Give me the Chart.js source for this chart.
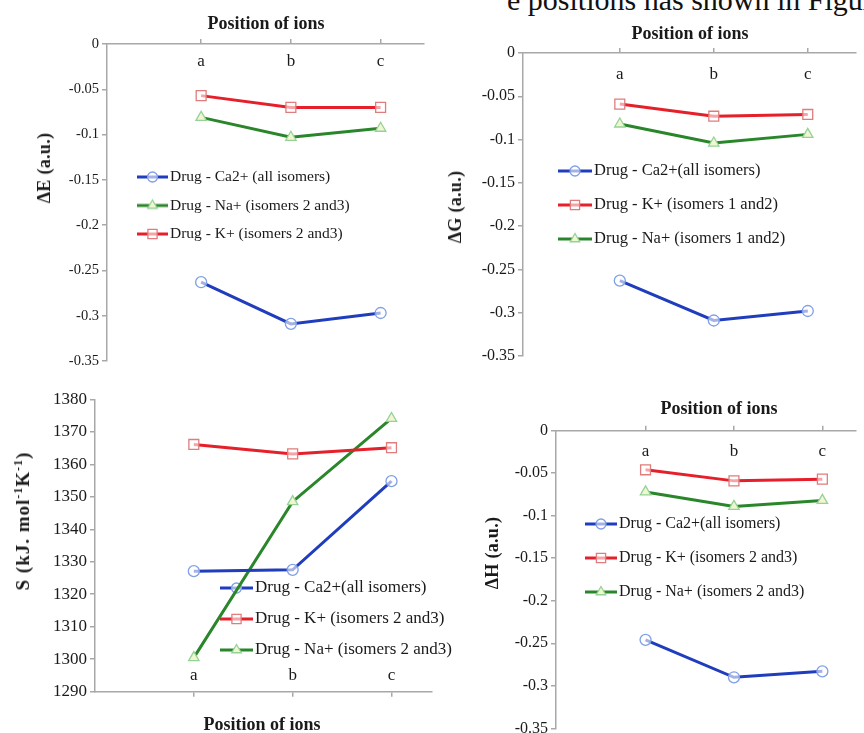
<!DOCTYPE html>
<html><head><meta charset="utf-8">
<script src="https://cdn.jsdelivr.net/npm/chart.js@4.4.1/dist/chart.umd.min.js"></script>
<style>
html,body{margin:0;padding:0;background:#fff;width:864px;height:733px;overflow:hidden;position:relative;font-family:"Liberation Serif",serif;}
canvas{position:absolute;}
.t{position:absolute;white-space:nowrap;color:#1a1a1a;font-weight:bold;font-size:18px;line-height:20px;transform:translate(-50%,-50%);}
.ty{transform:translate(-50%,-50%) rotate(-90deg);}
.top{position:absolute;left:507px;top:-15px;font-size:30px;line-height:30px;white-space:nowrap;color:#111;}
sup{font-size:12px;line-height:0;}
</style></head><body>
<div class="top">e positions has shown in Figure</div>
<canvas id="cE" width="432" height="370" style="left:0;top:0"></canvas>
<canvas id="cG" width="430" height="370" style="left:434px;top:0"></canvas>
<canvas id="cH" width="430" height="362" style="left:434px;top:380px"></canvas>
<canvas id="cS" width="480" height="353" style="left:0;top:380px"></canvas>
<div class="t" style="left:266px;top:23px">Position of ions</div>
<div class="t" style="left:690px;top:33px">Position of ions</div>
<div class="t" style="left:262px;top:724px">Position of ions</div>
<div class="t" style="left:719px;top:408px">Position of ions</div>
<div class="t ty" style="left:44px;top:168px;letter-spacing:0.3px">ΔE (a.u.)</div>
<div class="t ty" style="left:455px;top:207px;letter-spacing:0.3px">ΔG (a.u.)</div>
<div class="t ty" style="left:23px;top:521px;font-size:19px;letter-spacing:1px">S (kJ. mol<sup>-1</sup>K<sup>-1</sup>)</div>
<div class="t ty" style="left:492px;top:553px;letter-spacing:0.3px">ΔH (a.u.)</div>
<script>
// ---------- data ----------
const categories = ['a', 'b', 'c'];

const energyTicks = [0, -0.05, -0.1, -0.15, -0.2, -0.25, -0.3, -0.35];
const entropyTicks = [1380, 1370, 1360, 1350, 1340, 1330, 1320, 1310, 1300, 1290];

// ΔE (a.u.)
const dE_Ca = [-0.263, -0.309, -0.297];
const dE_Na = [-0.081, -0.103, -0.093];
const dE_K  = [-0.057, -0.070, -0.070];
const legendE = ['Drug - Ca2+ (all isomers)', 'Drug - Na+ (isomers 2 and3)', 'Drug - K+ (isomers 2 and3)'];

// ΔG (a.u.)
const dG_Ca = [-0.263, -0.309, -0.298];
const dG_K  = [-0.059, -0.073, -0.071];
const dG_Na = [-0.082, -0.104, -0.094];
const legendG = ['Drug - Ca2+(all isomers)', 'Drug - K+ (isomers 1 and2)', 'Drug - Na+ (isomers 1 and2)'];

// S (kJ mol-1 K-1)
const S_Ca = [1327.1, 1327.5, 1354.8];
const S_K  = [1366.1, 1363.2, 1365.1];
const S_Na = [1300.5, 1348.5, 1374.1];
const legendS = ['Drug - Ca2+(all isomers)', 'Drug - K+ (isomers 2 and3)', 'Drug - Na+ (isomers 2 and3)'];

// ΔH (a.u.)
const dH_Ca = [-0.246, -0.290, -0.283];
const dH_K  = [-0.046, -0.059, -0.057];
const dH_Na = [-0.072, -0.089, -0.082];
const legendH = ['Drug - Ca2+(all isomers)', 'Drug - K+ (isomers 2 and3)', 'Drug - Na+ (isomers 2 and3)'];

// ---------- styles ----------
const FONT = '"Liberation Serif", "Times New Roman", serif';
const AXIS = '#a8a8a8';
const ION = {
  Ca: {line: '#1f3dbd', border: '#7f9fe6', fill: 'rgba(255,255,255,0.6)', shape: 'circle', r: 5.5},
  K:  {line: '#e5202a', border: '#e07c7c', fill: 'rgba(255,255,255,0.6)', shape: 'rect', r: 7},
  Na: {line: '#2a862a', border: '#96d296', fill: '#f1f6d2', shape: 'triangle', r: 6}
};

function legendIcon(ion, w) {
  const s = ION[ion];
  const c = document.createElement('canvas');
  c.width = w; c.height = 16;
  const ctx = c.getContext('2d');
  ctx.strokeStyle = s.line; ctx.lineWidth = 3;
  ctx.beginPath(); ctx.moveTo(0, 8); ctx.lineTo(w, 8); ctx.stroke();
  ctx.fillStyle = s.fill; ctx.strokeStyle = s.border; ctx.lineWidth = 1.3;
  Chart.helpers.drawPoint(ctx, {pointStyle: s.shape, radius: s.r - 0.5, borderWidth: 1.3, rotation: 0}, w / 2, 8);
  return c;
}

function makePanel(p) {
  const fs = p.legend.font;
  const g = p.legend.textStart - p.legend.lineStart;
  const iconW = g - 2;
  const boxW = 2 * (g - iconW / 2 - fs / 2);
  const lpad = p.legend.step - fs;
  const legendLeft = p.legend.lineStart + iconW / 2 - boxW / 2 - lpad - p.box[0];
  const legendTop = p.legend.firstY - fs / 2 - lpad - p.box[1];
  const icons = p.series.map(s => legendIcon(s[0], iconW));

  const datasets = p.series.map(s => {
    const st = ION[s[0]];
    return {
      label: s[1],
      data: s[2].map((v, i) => ({x: i + 1, y: v})),
      borderColor: st.line, borderWidth: 3,
      pointStyle: st.shape, pointRadius: st.r, pointBorderColor: st.border,
      pointBackgroundColor: st.fill, pointBorderWidth: 1.3,
      backgroundColor: st.line, tension: 0, fill: false
    };
  });
  const yVals = p.yTicks.slice().sort((a, b) => a - b);

  const catPlugin = {
    id: 'catLabels',
    afterDraw(chart) {
      const ctx = chart.ctx, xs = chart.scales.x, ca = chart.chartArea;
      ctx.save();
      ctx.font = '17px ' + FONT;
      ctx.fillStyle = '#1a1a1a';
      ctx.textAlign = 'center';
      ctx.textBaseline = 'alphabetic';
      categories.forEach((c, i) => {
        const x = xs.getPixelForValue(i + 1);
        const y = p.xPos === 'top' ? ca.top + p.catBase : ca.bottom - p.catBase;
        ctx.fillText(c, x, y);
      });
      ctx.restore();
    }
  };
  const legendPosPlugin = {
    id: 'legendPos',
    afterUpdate(chart) {
      const lg = chart.legend;
      lg.left = legendLeft; lg.top = legendTop;
      lg.right = legendLeft + 420; lg.bottom = legendTop + 220;
      lg.width = 420; lg.height = 220;
    }
  };

  new Chart(document.getElementById(p.id), {
    type: 'line',
    data: {datasets},
    options: {
      responsive: false, animation: false, maintainAspectRatio: false,
      layout: {padding: p.pad},
      scales: {
        x: {
          type: 'linear', position: p.xPos, min: p.xRange[0], max: p.xRange[1],
          afterBuildTicks: s => { s.ticks = categories.map((c, i) => ({value: i + 1})); },
          afterFit: s => { s.height = p.xH; s.paddingLeft = 0; s.paddingRight = 0; },
          ticks: {display: false},
          grid: {display: true, drawOnChartArea: false, drawTicks: true, tickLength: 5, color: AXIS, lineWidth: 1.5},
          border: {display: true, color: AXIS, width: 1.5}
        },
        y: {
          type: 'linear', min: yVals[0], max: yVals[yVals.length - 1],
          afterBuildTicks: s => { s.ticks = yVals.map(v => ({value: v})); },
          afterFit: s => { s.width = p.yW; s.paddingTop = 0; s.paddingBottom = 0; },
          ticks: {font: {family: FONT, size: p.tickFont}, color: '#1a1a1a', padding: 3, autoSkip: false,
                  callback: v => String(v)},
          grid: {display: true, drawOnChartArea: false, drawTicks: true, tickLength: 5, color: AXIS, lineWidth: 1.5},
          border: {display: true, color: AXIS, width: 1.5}
        }
      },
      plugins: {
        tooltip: {enabled: false},
        legend: {
          display: true, position: 'chartArea', align: 'start',
          labels: {
            usePointStyle: true, pointStyleWidth: boxW, padding: lpad,
            font: {family: FONT, size: fs}, color: '#1a1a1a',
            generateLabels: chart => Chart.defaults.plugins.legend.labels.generateLabels(chart)
              .map(it => Object.assign(it, {pointStyle: icons[it.datasetIndex]}))
          }
        }
      }
    },
    plugins: [catPlugin, legendPosPlugin]
  });
}

const panels = [
  {id: 'cE', box: [0, 0, 432, 370], xPos: 'top', xRange: [-0.049, 3.48], yTicks: energyTicks, tickFont: 14.5,
   yW: 107, xH: 44, pad: {left: 0, top: 0, right: 2, bottom: 9}, catBase: 21.5,
   series: [['Ca', legendE[0], dE_Ca], ['Na', legendE[1], dE_Na], ['K', legendE[2], dE_K]],
   legend: {lineStart: 137, textStart: 170, firstY: 177, step: 28.5, font: 15.5}},
  {id: 'cG', box: [434, 0, 430, 370], xPos: 'top', xRange: [-0.03, 3.51], yTicks: energyTicks, tickFont: 16,
   yW: 89, xH: 53, pad: {left: 0, top: 0, right: 5, bottom: 14}, catBase: 26,
   series: [['Ca', legendG[0], dG_Ca], ['K', legendG[1], dG_K], ['Na', legendG[2], dG_Na]],
   legend: {lineStart: 558, textStart: 594, firstY: 171, step: 34, font: 16.5}},
  {id: 'cS', box: [0, 380, 480, 353], xPos: 'bottom', xRange: [0, 3.41], yTicks: entropyTicks, tickFont: 17,
   yW: 95, xH: 41.3, pad: {left: 0, top: 19.3, right: 48, bottom: 0}, catBase: 11.7,
   series: [['Ca', legendS[0], S_Ca], ['K', legendS[1], S_K], ['Na', legendS[2], S_Na]],
   legend: {lineStart: 220, textStart: 255, firstY: 588, step: 31, font: 17}},
  {id: 'cH', box: [434, 380, 430, 362], xPos: 'top', xRange: [-0.013, 3.377], yTicks: energyTicks, tickFont: 16,
   yW: 122, xH: 50.7, pad: {left: 0, top: 0, right: 0, bottom: 13.7}, catBase: 25,
   series: [['Ca', legendH[0], dH_Ca], ['K', legendH[1], dH_K], ['Na', legendH[2], dH_Na]],
   legend: {lineStart: 585, textStart: 619, firstY: 524, step: 34, font: 16}}
];
panels.forEach(makePanel);
</script>
</body></html>
